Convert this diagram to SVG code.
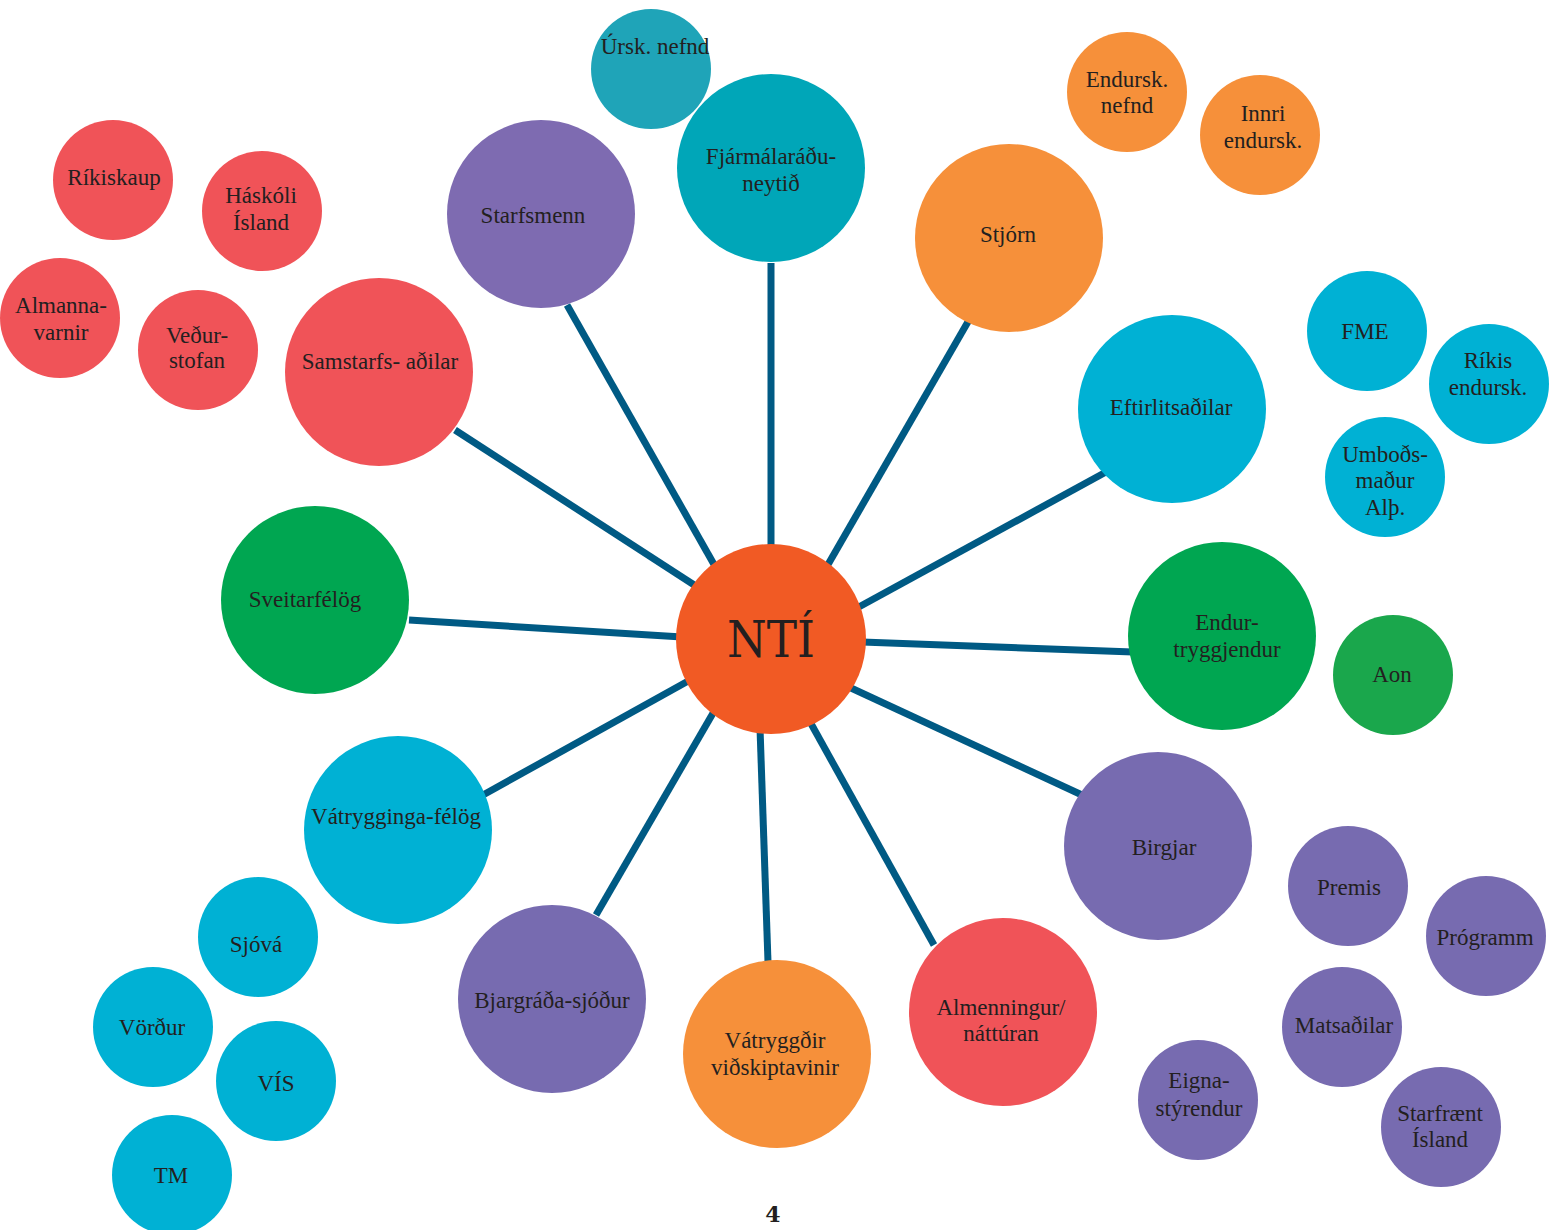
<svg xmlns="http://www.w3.org/2000/svg" width="1551" height="1230" viewBox="0 0 1551 1230">
<style>
.t{font-family:"Liberation Serif","Times New Roman",serif;font-size:23px;fill:#231f20;text-anchor:middle}
.red{fill:#f05358}.pur{fill:#776bb0}.pur2{fill:#7e6bb1}.teal{fill:#00a6b8}.teal2{fill:#1fa4b8}
.org{fill:#f6903a}.cyan{fill:#00b1d4}.grn{fill:#00a651}.grn2{fill:#1aa74c}
#connectors line{stroke:#005a84;stroke-width:7;stroke-linecap:butt}
</style>
<rect width="1551" height="1230" fill="#fff"/>
<g id="connectors">
<line x1="771" y1="263" x2="771" y2="550"/>
<line x1="567" y1="305" x2="716" y2="568"/>
<line x1="969" y1="320" x2="826" y2="568"/>
<line x1="1106" y1="472" x2="857" y2="608"/>
<line x1="1133" y1="652" x2="862" y2="642"/>
<line x1="1082" y1="795" x2="851" y2="688"/>
<line x1="934" y1="945" x2="809" y2="720"/>
<line x1="768" y1="962" x2="760" y2="728"/>
<line x1="596" y1="915" x2="716" y2="708"/>
<line x1="483" y1="795" x2="690" y2="680"/>
<line x1="409" y1="620" x2="682" y2="637"/>
<line x1="455" y1="430" x2="705" y2="592"/>
</g>
<g id="n-urskn"><circle class="teal2" cx="651" cy="69" r="60"/><text class="t" x="655" y="54">Úrsk. nefnd</text></g>
<g id="n-fjarm"><circle class="teal" cx="771" cy="168" r="94"/><text class="t" x="771" y="164">Fjármálaráðu-</text><text class="t" x="771" y="191">neytið</text></g>
<g id="n-starfsmenn"><circle class="pur2" cx="541" cy="214" r="94"/><text class="t" x="533" y="223">Starfsmenn</text></g>
<g id="n-stjorn"><circle class="org" cx="1009" cy="238" r="94"/><text class="t" x="1008" y="242">Stjórn</text></g>
<g id="n-endursknefnd"><circle class="org" cx="1127" cy="92" r="60"/><text class="t" x="1127" y="87">Endursk.</text><text class="t" x="1127" y="113">nefnd</text></g>
<g id="n-innri"><circle class="org" cx="1260" cy="135" r="60"/><text class="t" x="1263" y="121">Innri</text><text class="t" x="1263" y="148">endursk.</text></g>
<g id="n-eftirlit"><circle class="cyan" cx="1172" cy="409" r="94"/><text class="t" x="1171" y="415">Eftirlitsaðilar</text></g>
<g id="n-fme"><circle class="cyan" cx="1367" cy="331" r="60"/><text class="t" x="1365" y="339">FME</text></g>
<g id="n-rikisend"><circle class="cyan" cx="1489" cy="384" r="60"/><text class="t" x="1488" y="368">Ríkis</text><text class="t" x="1488" y="395">endursk.</text></g>
<g id="n-umbods"><circle class="cyan" cx="1385" cy="477" r="60"/><text class="t" x="1385" y="462">Umboðs-</text><text class="t" x="1385" y="488">maður</text><text class="t" x="1385" y="515">Alþ.</text></g>
<g id="n-endurtr"><circle class="grn" cx="1222" cy="636" r="94"/><text class="t" x="1227" y="630">Endur-</text><text class="t" x="1227" y="657">tryggjendur</text></g>
<g id="n-aon"><circle class="grn2" cx="1393" cy="675" r="60"/><text class="t" x="1392" y="682">Aon</text></g>
<g id="n-birgjar"><circle class="pur" cx="1158" cy="846" r="94"/><text class="t" x="1164" y="855">Birgjar</text></g>
<g id="n-premis"><circle class="pur" cx="1348" cy="886" r="60"/><text class="t" x="1349" y="895">Premis</text></g>
<g id="n-programm"><circle class="pur" cx="1486" cy="936" r="60"/><text class="t" x="1485" y="945">Prógramm</text></g>
<g id="n-matsadilar"><circle class="pur" cx="1342" cy="1027" r="60"/><text class="t" x="1344" y="1033">Matsaðilar</text></g>
<g id="n-eignast"><circle class="pur" cx="1198" cy="1100" r="60"/><text class="t" x="1199" y="1088">Eigna-</text><text class="t" x="1199" y="1116">stýrendur</text></g>
<g id="n-starfraent"><circle class="pur" cx="1441" cy="1127" r="60"/><text class="t" x="1440" y="1121">Starfrænt</text><text class="t" x="1440" y="1147">Ísland</text></g>
<g id="n-almenn"><circle class="red" cx="1003" cy="1012" r="94"/><text class="t" x="1001" y="1015">Almenningur/</text><text class="t" x="1001" y="1041">náttúran</text></g>
<g id="n-vatryggdir"><circle class="org" cx="777" cy="1054" r="94"/><text class="t" x="775" y="1048">Vátryggðir</text><text class="t" x="775" y="1075">viðskiptavinir</text></g>
<g id="n-bjargr"><circle class="pur" cx="552" cy="999" r="94"/><text class="t" x="552" y="1008">Bjargráða-sjóður</text></g>
<g id="n-vatrfelog"><circle class="cyan" cx="398" cy="830" r="94"/><text class="t" x="396" y="824">Vátrygginga-félög</text></g>
<g id="n-sjova"><circle class="cyan" cx="258" cy="937" r="60"/><text class="t" x="256" y="952">Sjóvá</text></g>
<g id="n-vordur"><circle class="cyan" cx="153" cy="1027" r="60"/><text class="t" x="152" y="1035">Vörður</text></g>
<g id="n-vis"><circle class="cyan" cx="276" cy="1081" r="60"/><text class="t" x="276" y="1091">VÍS</text></g>
<g id="n-tm"><circle class="cyan" cx="172" cy="1175" r="60"/><text class="t" x="171" y="1183">TM</text></g>
<g id="n-sveitarf"><circle class="grn" cx="315" cy="600" r="94"/><text class="t" x="305" y="607">Sveitarfélög</text></g>
<g id="n-samstarfs"><circle class="red" cx="379" cy="372" r="94"/><text class="t" x="380" y="369">Samstarfs- aðilar</text></g>
<g id="n-rikiskaup"><circle class="red" cx="113" cy="180" r="60"/><text class="t" x="114" y="185">Ríkiskaup</text></g>
<g id="n-haskoli"><circle class="red" cx="262" cy="211" r="60"/><text class="t" x="261" y="203">Háskóli</text><text class="t" x="261" y="230">Ísland</text></g>
<g id="n-almannav"><circle class="red" cx="60" cy="318" r="60"/><text class="t" x="61" y="313">Almanna-</text><text class="t" x="61" y="340">varnir</text></g>
<g id="n-vedur"><circle class="red" cx="198" cy="350" r="60"/><text class="t" x="197" y="343">Veður-</text><text class="t" x="197" y="368">stofan</text></g>
<g id="n-nti"><circle fill="#f15a24" cx="771" cy="639" r="95"/><text x="771" y="657" font-family="'DejaVu Serif',serif" font-size="50" fill="#231f20" text-anchor="middle" textLength="88" lengthAdjust="spacingAndGlyphs">NTÍ</text></g>
<text x="773" y="1222" font-family="'DejaVu Serif',serif" font-size="22" font-weight="bold" fill="#231f20" text-anchor="middle">4</text>
</svg>
